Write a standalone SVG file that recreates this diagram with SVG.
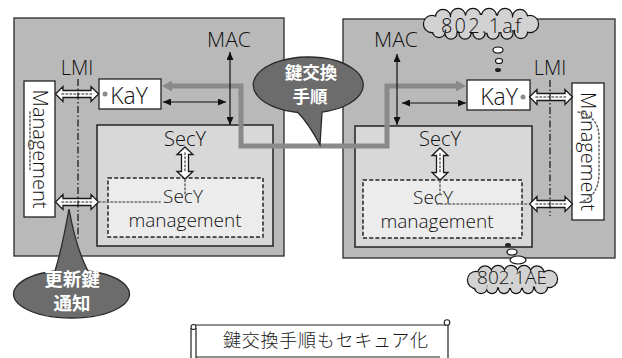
<svg xmlns="http://www.w3.org/2000/svg" xmlns:xlink="http://www.w3.org/1999/xlink" width="622" height="358" viewBox="0 0 622 358">
  <style>
    .outer{fill:#b9b9b9;stroke:#2a2a2a;stroke-width:1.3}
    .secy{fill:#d8d8d8;stroke:#222;stroke-width:1.5}
    .mgmtbox{fill:#ececec;stroke:#222;stroke-width:1.5;stroke-dasharray:4 2.2}
    .white{fill:#fff;stroke:#222;stroke-width:1.3}
    .lat{font-family:"Open Sans","Noto Sans","Liberation Sans","Noto Sans CJK JP",sans-serif;font-weight:300;fill:#111}
    .jp{font-family:"Noto Sans CJK JP","Noto Sans",sans-serif}
    .hollow{fill:#fff;stroke:#1a1a1a;stroke-width:1.3}
    .dots{fill:none;stroke:#6a6a6a;stroke-width:1.6;stroke-dasharray:1.6 2.4;stroke-linecap:round}
    .lmi{fill:none;stroke:#111;stroke-width:1.2;stroke-dasharray:7 2.5 1.5 2.5}
    .thin{fill:none;stroke:#111;stroke-width:1.2}
    .pipe{fill:none;stroke:#8a8a8a;stroke-width:5}
    .bubble{fill:#6c6c6c;stroke:#2a2a2a;stroke-width:1.3}
    .btext{fill:#fff;font-weight:700}
    .cl-edge{fill:#d2d2d2;stroke:#111;stroke-width:2.4}
    .cl-fill{fill:#d2d2d2;stroke:none}
    .puff{fill:#fff;stroke:#111;stroke-width:1.2}
  </style>
  <defs>
    <marker id="blk" viewBox="0 0 8 7" refX="8" refY="3.5" markerWidth="8" markerHeight="7" markerUnits="userSpaceOnUse" orient="auto-start-reverse">
      <path d="M0,0 L8,3.5 L0,7 z" fill="#111"/>
    </marker>
    <marker id="gry" viewBox="0 0 10 11" refX="3" refY="5.5" markerWidth="10" markerHeight="11" markerUnits="userSpaceOnUse" orient="auto-start-reverse">
      <path d="M0,0 L10,5.5 L0,11 z" fill="#8a8a8a"/>
    </marker>
    <!-- horizontal hollow double arrow, centred on the origin -->
    <g id="harrow">
      <path class="hollow" d="M-21.5,0 L-14,-7.5 L-14,-3.5 L14,-3.5 L14,-7.5 L21.5,0 L14,7.5 L14,3.5 L-14,3.5 L-14,7.5 Z"/>
      <path class="dots" d="M-15,0 L15,0"/>
    </g>
    <!-- vertical hollow double arrow, centred on the origin -->
    <g id="varrow">
      <path class="hollow" d="M0,-16 L8,-8.5 L3.5,-8.5 L3.5,8.5 L8,8.5 L0,16 L-8,8.5 L-3.5,8.5 L-3.5,-8.5 L-8,-8.5 Z"/>
      <path class="dots" d="M0,-10 L0,10"/>
    </g>
    <g id="cloudA">
      <ellipse cx="481" cy="24" rx="46" ry="9"/>
      <circle cx="432" cy="24" r="8"/><circle cx="443" cy="17" r="7"/><circle cx="458" cy="16" r="7"/>
      <circle cx="473" cy="16" r="7"/><circle cx="489" cy="16" r="7"/><circle cx="505" cy="16" r="7"/>
      <circle cx="520" cy="17" r="7"/><circle cx="530" cy="24" r="8"/><circle cx="521" cy="32" r="6"/>
      <circle cx="507" cy="33" r="5.5"/><circle cx="493" cy="33" r="5.5"/><circle cx="479" cy="33" r="5.5"/>
      <circle cx="465" cy="33" r="5.5"/><circle cx="451" cy="33" r="5.5"/><circle cx="439" cy="31" r="6"/>
    </g>
    <g id="cloudB">
      <ellipse cx="513" cy="280" rx="36" ry="8"/>
      <circle cx="476" cy="280" r="8"/><circle cx="485" cy="273" r="6.5"/><circle cx="498" cy="272.5" r="6.5"/>
      <circle cx="511" cy="272.5" r="6.5"/><circle cx="524" cy="272.5" r="6.5"/><circle cx="537" cy="273" r="6.5"/>
      <circle cx="549" cy="279" r="8"/><circle cx="541" cy="287" r="6"/><circle cx="528" cy="288" r="5"/>
      <circle cx="516" cy="288" r="5"/><circle cx="504" cy="288" r="5"/><circle cx="492" cy="288" r="5"/>
      <circle cx="481" cy="287" r="6"/>
    </g>
  </defs>

  <rect width="622" height="358" fill="#fff"/>

  <!-- left station -->
  <g id="station-left">
    <rect class="outer" x="14" y="18" width="270" height="238"/>
  </g>
  <g id="secy-left">
    <rect class="secy" x="97" y="125" width="176" height="121"/>
    <text class="lat" x="185" y="146" font-size="20" text-anchor="middle">SecY</text>
  </g>
  <g id="secy-mgmt-left">
    <rect class="mgmtbox" x="108" y="178" width="155" height="59"/>
    <text class="lat" font-size="19" text-anchor="middle"><tspan x="183" y="203">SecY</tspan><tspan x="185" y="226.5">management</tspan></text>
  </g>
  <g id="management-left">
    <rect class="white" x="24" y="81" width="31" height="136"/>
    <text class="lat" transform="translate(33,149) rotate(90)" font-size="20" text-anchor="middle">Management</text>
    <path class="dots" d="M30,112 L30,170"/>
  </g>
  <g id="kay-left">
    <rect class="white" x="99" y="79" width="62" height="30"/>
    <circle cx="105" cy="94" r="2.5" fill="#8a8a8a"/>
    <text class="lat" x="129" y="104" font-size="23" text-anchor="middle">KaY</text>
  </g>

  <!-- right station -->
  <g id="station-right">
    <rect class="outer" x="343" y="19" width="272" height="239"/>
  </g>
  <g id="secy-right">
    <rect class="secy" x="355" y="126" width="177" height="121"/>
    <text class="lat" x="440" y="146" font-size="20" text-anchor="middle">SecY</text>
  </g>
  <g id="secy-mgmt-right">
    <rect class="mgmtbox" x="363" y="180" width="159" height="58"/>
    <text class="lat" font-size="19" text-anchor="middle"><tspan x="433" y="204">SecY</tspan><tspan x="437" y="227.5">management</tspan></text>
  </g>
  <g id="management-right">
    <rect class="white" x="572" y="83" width="32" height="137"/>
    <text class="lat" transform="translate(581,151.5) rotate(90)" font-size="20" text-anchor="middle">Management</text>
    <path class="dots" d="M578,112 Q600,116 599,140 L599,175 Q598,198 578,203"/>
  </g>
  <g id="kay-right">
    <rect class="white" x="467" y="80" width="63" height="30"/>
    <circle cx="523" cy="97" r="2.5" fill="#8a8a8a"/>
    <text class="lat" x="499" y="105" font-size="23" text-anchor="middle">KaY</text>
  </g>

  <!-- connectors -->
  <g id="connectors">
    <!-- key exchange path between the two KaY entities -->
    <path class="pipe" d="M169,86 L241,86 L241,146 L387,146 L387,86 L459,86" marker-start="url(#gry)" marker-end="url(#gry)"/>

    <!-- MAC service arrows -->
    <path class="thin" d="M230,52 L230,125" marker-start="url(#blk)" marker-end="url(#blk)"/>
    <path class="thin" d="M163,102 L226,102" marker-start="url(#blk)" marker-end="url(#blk)"/>
    <path class="thin" d="M397,54 L397,125" marker-start="url(#blk)" marker-end="url(#blk)"/>
    <path class="thin" d="M402,103 L466,103" marker-start="url(#blk)" marker-end="url(#blk)"/>

    <!-- management interfaces -->
    <use xlink:href="#harrow" transform="translate(77,94)"/>
    <use xlink:href="#harrow" transform="translate(77,202)"/>
    <use xlink:href="#harrow" transform="translate(551,97)"/>
    <use xlink:href="#harrow" transform="translate(551,204)"/>
    <use xlink:href="#varrow" transform="translate(185,163)"/>
    <use xlink:href="#varrow" transform="translate(440,164)"/>

    <path class="dots" d="M99,202 L160,202"/>
    <path class="dots" d="M185,180 L185,196"/>
    <path class="dots" d="M437,204 L529,204"/>
    <path class="dots" d="M440,181 L440,197"/>

    <!-- LMI boundaries -->
    <path class="lmi" d="M78,79 L78,240"/>
    <path class="lmi" d="M550,80 L550,216"/>
  </g>

  <g id="labels">
    <text class="lat" x="229" y="47" font-size="21" text-anchor="middle">MAC</text>
    <text class="lat" x="396" y="47" font-size="21" text-anchor="middle">MAC</text>
    <text class="lat" x="77" y="75" font-size="20" text-anchor="middle">LMI</text>
    <text class="lat" x="550" y="75" font-size="20" text-anchor="middle">LMI</text>
  </g>

  <!-- callouts -->
  <g id="callout-key-exchange">
    <path class="bubble" d="M298,112.5 A55 28 0 1 1 322,112.1 L320,145 Q309,124 298,112.5 Z"/>
    <text class="jp btext" font-size="17.5" text-anchor="middle"><tspan x="311" y="79">鍵交換</tspan><tspan x="310" y="103">手順</tspan></text>
  </g>
  <g id="callout-rekey">
    <path class="bubble" d="M88,271 A58 24 0 1 1 55,271 Q62,248 69,209 Q76,248 88,271 Z"/>
    <text class="jp btext" font-size="18.5" text-anchor="middle"><tspan x="72" y="286">更新鍵</tspan><tspan x="72" y="309.5">通知</tspan></text>
  </g>

  <!-- standard clouds -->
  <g id="cloud-8021af">
    <use xlink:href="#cloudA" class="cl-edge"/>
    <use xlink:href="#cloudA" class="cl-fill"/>
    <text class="lat" x="481" y="33" font-size="20" text-anchor="middle" textLength="80" lengthAdjust="spacing">802.1af</text>
    <ellipse class="puff" cx="498" cy="50" rx="5" ry="3"/>
    <ellipse class="puff" cx="499" cy="61" rx="3.5" ry="2.5"/>
    <ellipse cx="498" cy="70" rx="3" ry="2" fill="#222"/>
  </g>
  <g id="cloud-8021ae">
    <ellipse cx="508" cy="245" rx="3" ry="2" fill="#222"/>
    <ellipse class="puff" cx="512" cy="252" rx="5" ry="3"/>
    <ellipse class="puff" cx="518" cy="260" rx="8" ry="4"/>
    <use xlink:href="#cloudB" class="cl-edge"/>
    <use xlink:href="#cloudB" class="cl-fill"/>
    <text class="lat" x="512" y="284" font-size="19" text-anchor="middle" textLength="70" lengthAdjust="spacing">802.1AE</text>
  </g>

  <!-- caption banner -->
  <g id="caption">
    <path d="M195,325 L446,325 M448,322 L448,358 M196,328 L196,358 M191,328 L191,358 M196,357 L440,357" fill="none" stroke="#222" stroke-width="1.2"/>
    <circle cx="193.5" cy="327" r="2.5" fill="#fff" stroke="#222" stroke-width="1.1"/>
    <circle cx="447" cy="322.5" r="2.8" fill="#fff" stroke="#222" stroke-width="1.1"/>
    <text class="jp" x="223" y="347" font-size="18" fill="#1a1a1a" font-weight="300" textLength="205" lengthAdjust="spacing">鍵交換手順もセキュア化</text>
  </g>
</svg>
